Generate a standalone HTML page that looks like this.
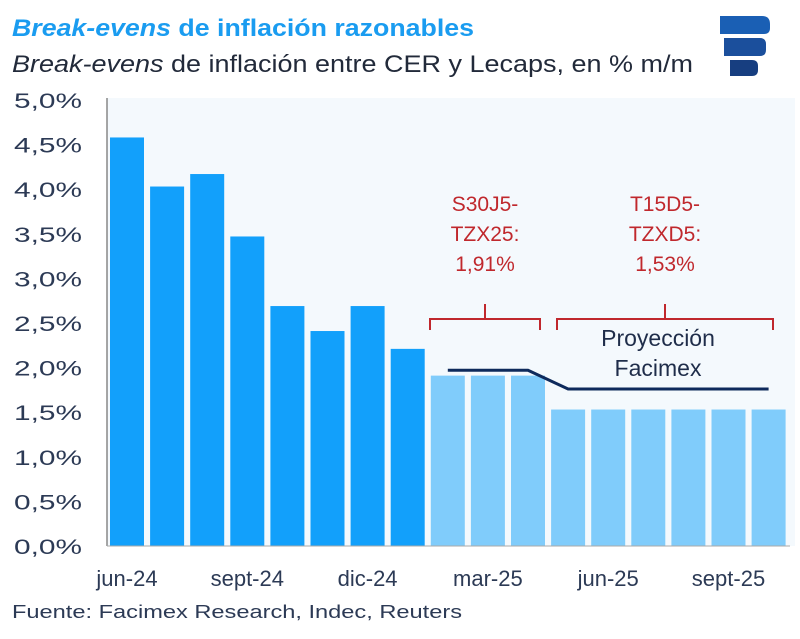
<!DOCTYPE html>
<html><head><meta charset="utf-8"><style>
body{margin:0;background:#fff;width:800px;height:634px;overflow:hidden;font-family:"Liberation Sans",sans-serif}
svg text{font-family:"Liberation Sans",sans-serif}
</style></head><body>
<svg id="c" width="800" height="634" xmlns="http://www.w3.org/2000/svg">
<text x="12" y="36" font-size="24" font-weight="bold" fill="#1a9cf0" textLength="462" lengthAdjust="spacingAndGlyphs"><tspan font-style="italic">Break-evens</tspan> de inflación razonables</text>
<text x="12" y="72" font-size="24" fill="#222a3a" textLength="681" lengthAdjust="spacingAndGlyphs"><tspan font-style="italic">Break-evens</tspan> de inflación entre CER y Lecaps, en % m/m</text>
<g>
<path d="M720 16 h42 q8 0 8 8 v4 q0 6 -6 6 h-44z" fill="#1a5fb4"/>
<path d="M724 38 h36 q6 0 6 6 v6 q0 6 -6 6 h-36z" fill="#1b4f9c"/>
<path d="M730 60 h22 q6 0 6 6 v4 q0 6 -6 6 h-22z" fill="#173e80"/>
</g>
<rect x="107" y="98" width="688" height="448" fill="#f4f9fd"/>
<g id="yax"></g><g id="bars"></g><g id="xax"></g><g id="ann"></g>
<text x="12" y="618" font-size="18" fill="#2c3a55" textLength="450" lengthAdjust="spacingAndGlyphs">Fuente: Facimex Research, Indec, Reuters</text>
</svg>
<script>
const months=["jun-24","jul-24","ago-24","sept-24","oct-24","nov-24","dic-24","ene-25","feb-25","mar-25","abr-25","may-25","jun-25","jul-25","ago-25","sept-25","oct-25"];
const values=[4.58,4.03,4.17,3.47,2.69,2.41,2.69,2.21,1.91,1.91,1.91,1.53,1.53,1.53,1.53,1.53,1.53];
const projected=[0,0,0,0,0,0,0,0,1,1,1,1,1,1,1,1,1];
const projLine=[null,null,null,null,null,null,null,null,1.97,1.97,1.97,1.76,1.76,1.76,1.76,1.76,1.76];
const yTicks=[0,0.5,1,1.5,2,2.5,3,3.5,4,4.5,5];
const xLabelIdx=[0,3,6,9,12,15];
const NS="http://www.w3.org/2000/svg";
const y0=546,y5=100;
const y=v=>y0-(v/5)*(y0-y5);
const step=40.1;
const xc=i=>110+17+step*i;
function mk(t,a,p){const e=document.createElementNS(NS,t);for(const k in a)e.setAttribute(k,a[k]);p.appendChild(e);return e;}
const yax=document.getElementById('yax');
yTicks.forEach(t=>{const e=mk('text',{x:82,y:y(t)+8,'font-size':21,'text-anchor':'end',fill:'#2c3a55',textLength:68,lengthAdjust:'spacingAndGlyphs'},yax);e.textContent=t.toFixed(1).replace('.',',')+'%';

});
const ax=mk('line',{x1:107,x2:107,y1:98,y2:546,stroke:'#888','stroke-width':1.5},yax);


const bars=document.getElementById('bars');
values.forEach((v,i)=>{const r=mk('rect',{x:xc(i)-17,y:y(v),width:34,height:y0-y(v),fill:projected[i]?'#80ccfb':'#12a0fb'},bars);

});
const bl=mk('line',{x1:107,x2:790,y1:y0,y2:y0,stroke:'#aaa','stroke-width':1},bars);


const xax=document.getElementById('xax');
xLabelIdx.forEach(i=>{const e=mk('text',{x:xc(i),y:586,'font-size':22,'text-anchor':'middle',fill:'#2c3a55'},xax);e.textContent=months[i];

});
let pts=[];projLine.forEach((v,i)=>{if(v!=null)pts.push([xc(i),y(v)]);});
const pl=mk('polyline',{points:pts.map(p=>p.join(',')).join(' '),fill:'none',stroke:'#0e2a5c','stroke-width':3},xax);


const ann=document.getElementById('ann');
function brace(x1,x2,yy,name){const m=(x1+x2)/2;const p=mk('path',{d:`M${x1} ${yy+16} V${yy+5} H${m} V${yy-10} M${m} ${yy+5} H${x2} V${yy+16}`,fill:'none',stroke:'#c0282d','stroke-width':2},ann);

}
brace(430,540,314,'bracket-s30j5');brace(557,773,314,'bracket-t15d5');
function lines(arr,x,yy,col,size,name){arr.forEach((s,k)=>{const e=mk('text',{x:x,y:yy+k*30,'font-size':size,'text-anchor':'middle',fill:col},ann);e.textContent=s;

});}
lines(["S30J5-","TZX25:","1,91%"],485,211,'#c0282d',21,'label-s30j5');
lines(["T15D5-","TZXD5:","1,53%"],665,211,'#c0282d',21,'label-t15d5');
lines(["Proyección","Facimex"],658,346,'#1f2d4a',23,'label-proyeccion');
</script>
</body></html>
